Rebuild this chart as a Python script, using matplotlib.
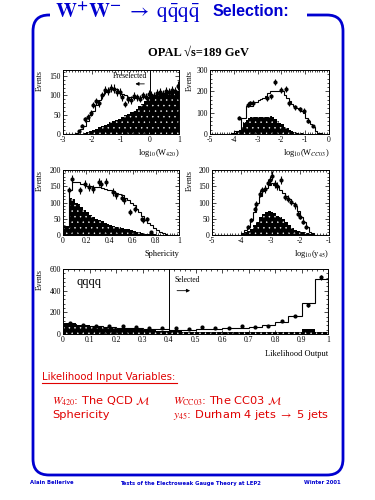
import numpy as np
import matplotlib
matplotlib.use("Agg")
import matplotlib.pyplot as plt
from matplotlib.patches import FancyBboxPatch, Rectangle
from matplotlib.ticker import MultipleLocator, FuncFormatter

plt.rcParams['font.family'] = ['Liberation Serif', 'DejaVu Serif']
plt.rcParams['mathtext.fontset'] = 'stix'
plt.rcParams['hatch.linewidth'] = 0.3

BLUE = '#0000d0'
RED = '#e00000'

# ---- panel 1: log10(W420), bins of 0.1 from -3 to 1
w420_edges = np.linspace(-3, 1, 41)
w420_mc = [0, 0, 0, 0, 2, 5, 12, 22, 35, 48, 60, 75, 88, 100, 108, 113, 116, 117, 116, 112,
           105, 100, 97, 95, 94, 93, 94, 95, 96, 97, 100, 102, 104, 106, 107, 108, 109, 110, 110, 111]
w420_bkg = [0, 0, 0, 0, 0, 0, 0, 2, 5, 8, 11, 14, 17, 21, 24, 27, 30, 34, 37, 40,
            44, 48, 52, 56, 60, 66, 72, 79, 86, 93, 98, 101, 103, 105, 106, 107, 108, 109, 109, 110]
w420_dx = [-2.45, -2.35, -2.25, -2.15, -2.05, -1.95, -1.85, -1.75, -1.65, -1.55, -1.45, -1.35,
           -1.25, -1.15, -1.05, -0.95, -0.85, -0.75, -0.65, -0.55, -0.45, -0.35, -0.25, -0.15,
           -0.05, 0.05, 0.15, 0.25, 0.35, 0.45, 0.55, 0.65, 0.75, 0.85, 0.95]
w420_dy = [8, 22, 38, 45, 55, 75, 85, 80, 100, 115, 112, 120, 118, 110, 108, 95, 78, 90, 88,
           98, 95, 92, 100, 97, 105, 102, 98, 106, 110, 104, 112, 108, 115, 112, 125]

# ---- panel 2: log10(W_CC03), bins of 0.1 from -5 to 0
cc03_edges = np.linspace(-5, 0, 51)
cc03_mc = [0] * 9 + [5, 15, 15, 20, 77, 77, 133, 133, 133, 150, 150, 160, 165, 170, 180, 190,
                     200, 200, 200, 200, 200, 200, 185, 170, 155, 140, 130, 122, 115, 108, 100,
                     75, 60, 45, 35, 15, 5, 5, 0, 0, 0]
cc03_bkg = [0] * 9 + [3, 5, 12, 20, 35, 55, 65, 75, 80, 80, 82, 82, 82, 80, 80, 78, 85, 80, 70,
                      60, 50, 45, 35, 28, 20, 15, 10, 7, 5, 3, 2, 1, 0, 0, 0, 0, 0, 0, 0, 0, 0]
cc03_dx = [-3.8, -3.4, -3.3, -3.2, -2.6, -2.45, -2.27, -2.03, -1.82, -1.67, -1.43, -1.22,
           -1.05, -0.87, -0.66]
cc03_dy = [77, 136, 144, 145, 168, 176, 243, 208, 210, 144, 125, 116, 110, 60, 38]

# ---- panel 3: sphericity, bins of 0.025 from 0 to 1
sph_edges = np.linspace(0, 1, 41)
sph_mc = [25, 25, 137, 162, 162, 162, 157, 157, 152, 150, 148, 147, 147, 145, 143, 140,
          137, 135, 130, 125, 122, 115, 107, 100, 91, 80, 71, 58, 46, 38, 30, 22, 15, 10,
          5, 2, 0, 0, 0, 0]
sph_bkg = [27, 27, 115, 112, 100, 95, 85, 78, 70, 61, 55, 50, 46, 42, 38, 34, 30, 28, 26,
           25, 23, 20, 18, 15, 12, 10, 8, 6, 4, 3, 3, 2, 1, 0, 0, 0, 0, 0, 0, 0]
sph_dx = [0.05, 0.08, 0.15, 0.19, 0.22, 0.26, 0.31, 0.33, 0.37, 0.43, 0.46, 0.51, 0.53,
          0.58, 0.62, 0.68, 0.69, 0.72, 0.76]
sph_dy = [137, 172, 137, 157, 147, 142, 163, 157, 163, 132, 122, 114, 107, 71, 81, 49, 45,
          48, 10]

# ---- panel 4: log10(y45), bins of 0.1 from -5 to -1
y45_edges = np.linspace(-5, -1, 41)
y45_mc = [0] * 10 + [5, 15, 25, 45, 70, 100, 120, 135, 145, 155, 160, 155, 150, 140, 130,
                     120, 110, 100, 90, 75, 55, 40, 25, 10, 5, 0, 0, 0, 0, 0]
y45_bkg = [0] * 10 + [3, 8, 12, 20, 30, 40, 55, 65, 72, 75, 72, 68, 60, 55, 48, 40, 30,
                      22, 15, 12, 10, 8, 6, 4, 2, 0, 0, 0, 0, 0]
y45_dx = [-3.77, -3.65, -3.54, -3.48, -3.37, -3.29, -3.2, -3.1, -3.02, -2.94, -2.85, -2.79,
          -2.65, -2.51, -2.4, -2.29, -2.17, -2.05, -2.0, -1.88, -1.77]
y45_dy = [25, 46, 79, 94, 127, 137, 142, 160, 168, 183, 157, 152, 170, 117, 112, 101, 91,
          66, 56, 41, 25]

# ---- panel 5: likelihood output, bins of 0.05
lik_edges = np.linspace(0, 1, 21)
lik_mc = [88, 75, 70, 65, 60, 55, 50, 45, 40, 40, 45, 50, 55, 60, 65, 80, 112, 165, 282, 512]
lik_bkg = [98, 80, 70, 60, 50, 45, 40, 30, 25, 20, 20, 18, 17, 16, 15, 15, 15, 18, 45, 20]
lik_dx = [0.025, 0.075, 0.125, 0.175, 0.225, 0.275, 0.325, 0.375, 0.425, 0.475, 0.525,
          0.575, 0.625, 0.675, 0.725, 0.775, 0.825, 0.875, 0.925, 0.975]
lik_dy = [98, 85, 75, 70, 74, 65, 55, 52, 52, 42, 62, 55, 58, 74, 62, 77, 120, 166, 268, 523]

fig = plt.figure(figsize=(3.75, 5), dpi=100)

# overlay in pixel coordinates for the slide decoration
bg = fig.add_axes([0, 0, 1, 1])
bg.set_xlim(0, 375)
bg.set_ylim(500, 0)
bg.axis('off')
bg.set_zorder(-1)
frame = FancyBboxPatch((33, 15), 310, 460, boxstyle="round,pad=0,rounding_size=16",
                       fc='none', ec=BLUE, lw=2.0)
bg.add_patch(frame)
bg.add_patch(Rectangle((50, 4), 257, 22, fc='white', ec='none', zorder=3))
bg.text(55, 12, r"$\mathbf{W^{+}W^{-}}\ \rightarrow\ \mathrm{q\bar{q}q\bar{q}}$",
        color=BLUE, fontsize=15, ha='left', va='center', zorder=4)
bg.text(213, 11, "Selection:", color=BLUE, fontsize=11.5, fontweight='bold',
        family=['Liberation Sans'], ha='left', va='center', zorder=4)
bg.text(198, 53, "OPAL \u221as=189 GeV", fontsize=9, fontweight='bold',
        ha='center', va='center')


def panel(rect, edges, mc, bkg, dx, dy, xlim, ylim, xmaj, xmin, ymaj, ymin):
    ax = fig.add_axes(rect)
    ax.stairs(bkg, edges, fill=True, facecolor='black', edgecolor='white', hatch='...',
              linewidth=0)
    ax.stairs(mc, edges, color='black', linewidth=0.8)
    ax.errorbar(dx, dy, yerr=np.sqrt(dy), fmt='o', ms=2.0, color='black', elinewidth=0.8,
                capsize=0)
    ax.set_xlim(*xlim)
    ax.set_ylim(*ylim)
    ax.xaxis.set_major_locator(MultipleLocator(xmaj))
    ax.xaxis.set_minor_locator(MultipleLocator(xmin))
    ax.yaxis.set_major_locator(MultipleLocator(ymaj))
    ax.yaxis.set_minor_locator(MultipleLocator(ymin))
    ax.xaxis.set_major_formatter(FuncFormatter(lambda v, p: "%g" % round(v, 3)))
    ax.tick_params(which='both', direction='in', top=True, right=True, labelsize=5.5,
                   width=0.5, pad=1.5)
    ax.tick_params(which='major', length=3)
    ax.tick_params(which='minor', length=1.5)
    for s in ax.spines.values():
        s.set_linewidth(0.7)
    return ax


def frac(x0, x1, y0, y1):
    return [x0 / 375, 1 - y1 / 500, (x1 - x0) / 375, (y1 - y0) / 500]


ax1 = panel(frac(63, 179, 70, 134), w420_edges, w420_mc, w420_bkg, w420_dx, w420_dy,
            (-3, 1), (0, 166), 1, 0.1, 50, 10)
ax1.axvline(0, color='black', lw=0.7)
ax1.text(-0.1, 150, "Preselected", fontsize=5.5, ha='right', va='center')
ax1.annotate("", xy=(-0.6, 130), xytext=(-0.1, 130),
             arrowprops=dict(arrowstyle='-|>', lw=0.6, color='black', mutation_scale=5))

ax2 = panel(frac(210, 329, 70, 134), cc03_edges, cc03_mc, cc03_bkg, cc03_dx, cc03_dy,
            (-5, 0), (0, 300), 1, 0.1, 100, 20)
ax3 = panel(frac(63, 179, 170, 235), sph_edges, sph_mc, sph_bkg, sph_dx, sph_dy,
            (0, 1), (0, 200), 0.2, 0.02, 50, 10)
ax4 = panel(frac(212, 329, 170, 235), y45_edges, y45_mc, y45_bkg, y45_dx, y45_dy,
            (-5, -1), (0, 200), 1, 0.1, 50, 10)
ax5 = panel(frac(63, 328, 269, 334), lik_edges, lik_mc, lik_bkg, lik_dx, lik_dy,
            (0, 1), (0, 600), 0.1, 0.02, 200, 40)
ax5.axvline(0.4, color='black', lw=0.7)
ax5.text(0.05, 480, "qqqq", fontsize=9, ha='left', va='center')
ax5.text(0.42, 500, "Selected", fontsize=5.5, ha='left', va='center')
ax5.annotate("", xy=(0.49, 400), xytext=(0.42, 400),
             arrowprops=dict(arrowstyle='-|>', lw=0.6, color='black', mutation_scale=5))

# axis titles, placed in pixel coordinates
for x, y in [(40, 70), (190, 70), (40, 170), (190, 170), (40, 269)]:
    bg.text(x, y, "Events", fontsize=5.5, rotation=90, ha='center', va='top')
bg.text(179, 153, r"log$_{10}$(W$_{420}$)", fontsize=6, ha='right', va='center')
bg.text(329, 153, r"log$_{10}$(W$_{CC03}$)", fontsize=6, ha='right', va='center')
bg.text(179, 254, "Sphericity", fontsize=6, ha='right', va='center')
bg.text(329, 254, r"log$_{10}$(y$_{45}$)", fontsize=6, ha='right', va='center')
bg.text(328, 354, "Likelihood Output", fontsize=6, ha='right', va='center')

# red notes
sans = ['DejaVu Sans']
bg.text(42, 377, "Likelihood Input Variables:", color=RED, fontsize=7.3, family=sans,
        ha='left', va='center')
bg.plot([42, 177], [383, 383], color=RED, lw=0.8)
bg.text(52, 401, r"$W_{420}$: The QCD $\mathcal{M}$", color=RED, fontsize=8.2, family=sans,
        ha='left', va='center')
bg.text(173, 401, r"$W_{\rm CC03}$: The CC03 $\mathcal{M}$", color=RED, fontsize=8.2,
        family=sans, ha='left', va='center')
bg.text(52, 415, "Sphericity", color=RED, fontsize=8.2, family=sans, ha='left', va='center')
bg.text(173, 415, r"$y_{45}$: Durham 4 jets $\rightarrow$ 5 jets", color=RED, fontsize=8.2,
        family=sans, ha='left', va='center')

# footer
bg.text(30, 483, "Alain Bellerive", color=BLUE, fontsize=3.8, family=sans,
        fontweight='bold', ha='left', va='center')
bg.text(190, 483, "Tests of the Electroweak Gauge Theory at LEP2", color=BLUE,
        fontsize=3.8, family=sans, fontweight='bold', ha='center', va='center')
bg.text(341, 483, "Winter 2001", color=BLUE, fontsize=3.8, family=sans,
        fontweight='bold', ha='right', va='center')

fig.savefig("out.png", dpi=100)
